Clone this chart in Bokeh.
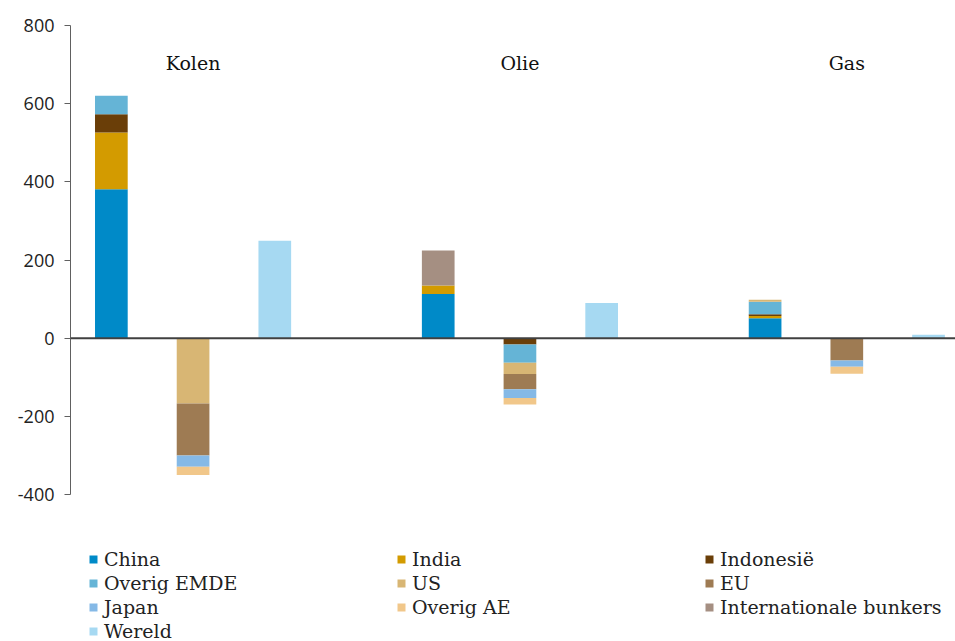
from bokeh.plotting import figure
from bokeh.layouts import column
from bokeh.models import ColumnDataSource, Range1d, Span, Legend, LegendItem, FixedTicker, Label
from bokeh.embed import file_html
from bokeh.resources import INLINE

# Energy groups and bars inside each group
groups = ["Kolen", "Olie", "Gas"]
bars = ["EMDE", "AE", "Wereld"]

series = ["China", "India", "Indonesië", "Overig EMDE", "US", "EU", "Japan",
          "Overig AE", "Internationale bunkers", "Wereld"]
colors = ["#008AC8", "#D39B00", "#6A3E08", "#65B4D6", "#D8B674", "#9E7B53",
          "#85B9E6", "#F1C78A", "#A58F82", "#A6D9F2"]

# values per series, order: Kolen(EMDE, AE, Wereld), Olie(...), Gas(...)
china      = [381, 0, 0, 113, 0, 0, 51, 0, 0]
india      = [145, 0, 0, 22, 0, 0, 6, 0, 0]
indonesie  = [47, 0, 0, 0, -16, 0, 4, 0, 0]
overig_emde = [47, 0, 0, 0, -47, 0, 32, 0, 0]
us         = [0, -167, 0, 0, -29, 0, 5, 0, 0]
eu         = [0, -133, 0, 0, -39, 0, 0, -57, 0]
japan      = [0, -29, 0, 0, -22, 0, 0, -16, 0]
overig_ae  = [0, -21, 0, 0, -17, 0, 0, -18, 0]
bunkers    = [0, 0, 0, 89, 0, 0, 0, 0, 0]
wereld     = [0, 0, 249, 0, 0, 90, 0, 0, 9]

data = [china, india, indonesie, overig_emde, us, eu, japan, overig_ae, bunkers, wereld]

yticks = [-400, -200, 0, 200, 400, 600, 800]
ytick_labels = ["-400", "-200", "0", "200", "400", "600", "800"]

# slot positions: one empty slot between groups
xs = [g * 4 + b for g in range(len(groups)) for b in range(len(bars))]

p = figure(width=955, height=508, output_backend="svg", toolbar_location=None,
           x_range=Range1d(-0.5, 10.33), y_range=Range1d(-400, 800),
           min_border_left=70, min_border_right=0, min_border_top=25,
           min_border_bottom=14)
p.outline_line_color = None
p.xgrid.visible = False
p.ygrid.visible = False
p.xaxis.visible = False

pos = [0.0] * len(xs)
neg = [0.0] * len(xs)
for name, vals, col in zip(series, data, colors):
    xx, top, bot = [], [], []
    for i, v in enumerate(vals):
        if v == 0:
            continue
        xx.append(xs[i])
        if v > 0:
            bot.append(pos[i]); top.append(pos[i] + v); pos[i] += v
        else:
            bot.append(neg[i]); top.append(neg[i] + v); neg[i] += v
    src = ColumnDataSource(dict(x=xx, top=top, bottom=bot))
    p.vbar(x="x", top="top", bottom="bottom", width=0.4, source=src,
           fill_color=col, line_color=None)

p.add_layout(Span(location=0, dimension="width", line_color="#404040", line_width=2))

# group labels
label_y = 705
for g, name in enumerate(groups):
    p.add_layout(Label(x=g * 4 + 1, y=label_y, text=name, text_align="center",
                       text_baseline="middle", text_font="DejaVu Serif",
                       text_font_size="19px", text_color="#111111"))

ax = p.yaxis[0]
ax.ticker = FixedTicker(ticks=yticks)
ax.major_label_overrides = {t: s for t, s in zip(yticks, ytick_labels)}
ax.minor_tick_line_color = None
ax.major_tick_in = 0
ax.major_tick_out = 6
ax.axis_line_color = "#606060"
ax.major_tick_line_color = "#606060"
ax.major_label_standoff = 10
ax.major_label_text_font = "Open Sans"
ax.major_label_text_font_size = "18px"
ax.major_label_text_color = "#222222"

# legend in its own strip below the chart
lg = figure(width=955, height=133, output_backend="svg", toolbar_location=None,
            x_range=Range1d(0, 1), y_range=Range1d(0, 1),
            min_border_left=70, min_border_right=0, min_border_top=0,
            min_border_bottom=0)
lg.axis.visible = False
lg.grid.visible = False
lg.outline_line_color = None
items = []
for name, col in zip(series, colors):
    # placeholder renderer outside the visible range, only for the legend swatch
    r = lg.vbar(x=[-5], top=[0], width=0.1, fill_color=col, line_color=None)
    items.append(LegendItem(label=name, renderers=[r]))

legend = Legend(items=items, location=(18, -1), orientation="horizontal", ncols=3,
                glyph_width=10, glyph_height=10, label_standoff=6, label_width=290,
                label_height=20, spacing=2, padding=0, margin=0,
                label_text_font="DejaVu Serif", label_text_font_size="19px",
                label_text_color="#222222", border_line_color=None,
                background_fill_alpha=0)
lg.add_layout(legend, "center")

layout = column(p, lg, spacing=0)
open("out.html", "w").write(file_html(layout, INLINE))
